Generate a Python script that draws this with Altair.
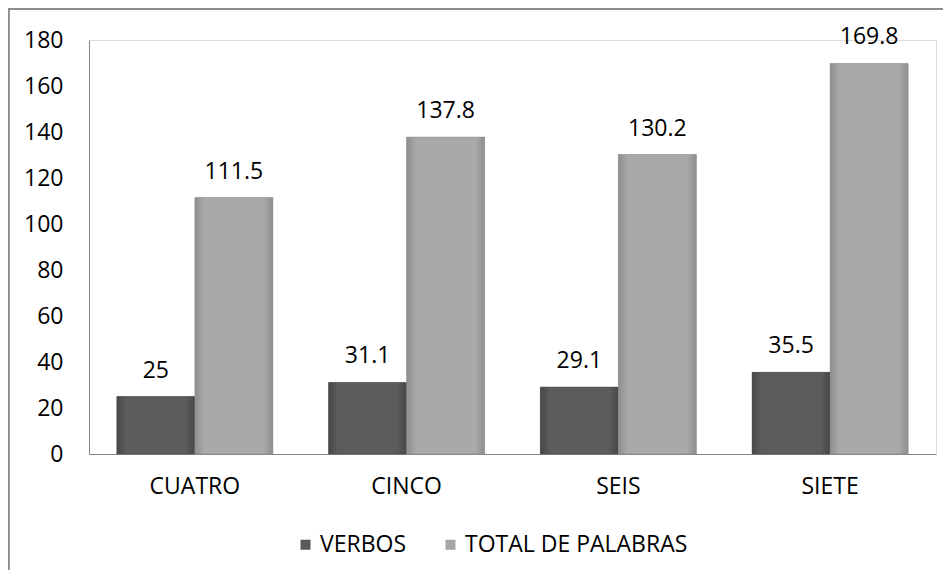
import altair as alt
import pandas as pd

categories = ["CUATRO", "CINCO", "SEIS", "SIETE"]
series_names = ["VERBOS", "TOTAL DE PALABRAS"]
verbos = [25, 31.1, 29.1, 35.5]
total = [111.5, 137.8, 130.2, 169.8]
y_ticks = [0, 20, 40, 60, 80, 100, 120, 140, 160, 180]

rows = []
for c, v, t in zip(categories, verbos, total):
    rows.append({"cat": c, "serie": series_names[0], "valor": v, "label": f"{v:g}"})
    rows.append({"cat": c, "serie": series_names[1], "valor": t, "label": f"{t:g}"})
df = pd.DataFrame(rows)

FONT = "Open Sans"
FS = 23
W, H = 847, 414

x_enc = alt.X("cat:N", sort=categories, title=None,
              scale=alt.Scale(paddingInner=0.263, paddingOuter=0.1315),
              axis=alt.Axis(labelAngle=0, ticks=False, domainColor="#868686",
                            labelFontSize=FS, labelPadding=21, labelColor="#000000"))
xoff = alt.XOffset("serie:N", sort=series_names, scale=alt.Scale(paddingInner=0, paddingOuter=0))
y_enc = alt.Y("valor:Q", title=None,
              scale=alt.Scale(domain=[0, 180], nice=False),
              axis=alt.Axis(values=y_ticks, grid=False, ticks=False, domainColor="#868686",
                            labelFontSize=FS, labelPadding=26, labelColor="#000000"))

def grad(edge, mid):
    return alt.Gradient(gradient="linear", x1=0, x2=1, y1=0, y2=0,
                        stops=[alt.GradientStop(color=edge, offset=0),
                               alt.GradientStop(color=mid, offset=0.12),
                               alt.GradientStop(color=mid, offset=0.88),
                               alt.GradientStop(color=edge, offset=1)])

base = alt.Chart(df)

legend_bars = base.mark_bar().encode(
    x=x_enc, xOffset=xoff, y=y_enc,
    color=alt.Color("serie:N", sort=series_names,
                    scale=alt.Scale(domain=series_names, range=["#595959", "#a6a6a6"]),
                    legend=alt.Legend(title=None, orient="none", direction="horizontal",
                                      legendX=205, legendY=493, symbolType="square",
                                      symbolSize=100, symbolStrokeWidth=0,
                                      labelFontSize=FS, labelOffset=3, columnPadding=32,
                                      labelLimit=0, labelColor="#000000")),
)

dark = base.transform_filter(alt.datum.serie == series_names[0]).mark_bar(
    color=grad("#474747", "#5c5c5c"), stroke="#4a4a4a", strokeWidth=0.5
).encode(x=x_enc, xOffset=xoff, y=y_enc)

light = base.transform_filter(alt.datum.serie == series_names[1]).mark_bar(
    color=grad("#8e8e8e", "#a9a9a9"), stroke="#8f8f8f", strokeWidth=0.5
).encode(x=x_enc, xOffset=xoff, y=y_enc)

labels = base.mark_text(fontSize=FS, dy=-26, color="#000000", font=FONT).encode(
    x=x_enc, xOffset=xoff, y=y_enc, text="label:N")

top_line = base.mark_rule(color="#8c8c8c", strokeWidth=1.2).encode(
    x=alt.value(-81), x2=alt.value(W + 10), y=alt.value(-31))
left_line = base.mark_rule(color="#8c8c8c", strokeWidth=1.2).encode(
    x=alt.value(-80.4), y=alt.value(-31), y2=alt.value(H + 120))

chart = alt.layer(top_line, left_line, legend_bars, dark, light, labels).properties(
    width=W, height=H,
    autosize=alt.AutoSizeParams(type="none"),
    padding={"left": 81, "top": 32, "right": 7, "bottom": 116},
).configure_view(stroke=None).configure(font=FONT)

chart.save("out.html", embed_options={"renderer": "svg", "actions": False})
